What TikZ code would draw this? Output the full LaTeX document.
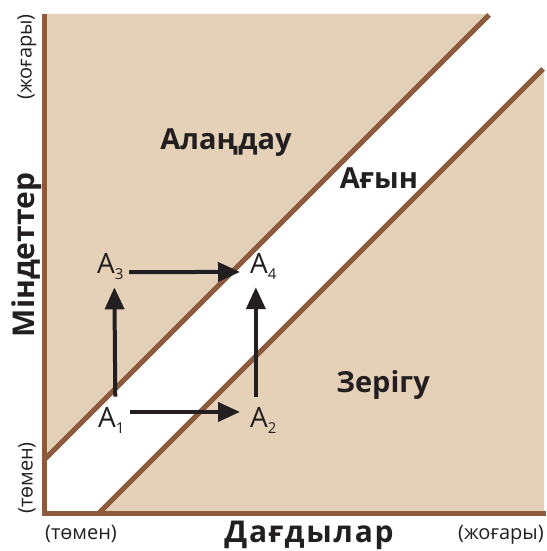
\documentclass[tikz,border=0pt]{standalone}
\usepackage{fontspec}
\setmainfont{Open Sans}
\usetikzlibrary{arrows.meta}
\definecolor{beige}{HTML}{E5D1B8}
\definecolor{brownline}{HTML}{8C5A3C}
\definecolor{ink}{HTML}{231F20}
\tikzset{
  axisline/.style={draw=brownline,line width=5pt},
  small/.style={font=\fontsize{20}{20}\selectfont,text=ink,inner sep=0pt},
  big/.style={font=\bfseries\fontsize{30}{30}\selectfont,text=ink,inner sep=0pt,anchor=base},
  region/.style={font=\bfseries\fontsize{29}{29}\selectfont,text=ink,inner sep=0pt,anchor=base},
  anode/.style={font=\fontsize{28}{28}\selectfont,text=ink,inner sep=0pt,anchor=base west},
  arr/.style={draw=ink,line width=4pt,-{Triangle[length=22pt,width=19pt]}}
}
\newcommand{\Asub}[1]{A\raisebox{-6pt}{\fontsize{15}{15}\selectfont #1}}
\begin{document}
\begin{tikzpicture}[x=1pt,y=-1pt]
\useasboundingbox (0,0) rectangle (546,551);
% beige regions
\fill[beige] (45,14) -- (489,14) -- (45,459) -- cycle;
\fill[beige] (99,513) -- (544,513) -- (544,68) -- cycle;
% diagonal lines
\draw[axisline] (45,459) -- (489,15);
\draw[axisline] (99,513) -- (543,69);
% axes
\draw[axisline] (44.5,14) -- (44.5,516);
\draw[axisline] (42,513.5) -- (546,513.5);
% axis texts
\node[small,rotate=90] (yhi) at (27,57) {(жоғары)};
\node[small,rotate=90] (ylo) at (27,478) {(төмен)};
\node[big,rotate=90] (ylab) at (34,255) {Міндеттер};
\node[small] (xlo) at (81,534) {(төмен)};
\node[small] (xhi) at (501,535) {(жоғары)};
\node[big] (xlab) at (309,542) {\addfontfeature{LetterSpace=6}Дағдылар};
% region texts
\node[region] (alan) at (226,149) {Алаңдау};
\node[region] (agyn) at (379,188.5) {Ағын};
\node[region] (zer) at (383,392) {Зерігу};
% A nodes
\node[anode] (a1) at (98,427) {\Asub{1}};
\node[anode] (a2) at (250,427) {\Asub{2}};
\node[anode] (a3) at (97,273) {\Asub{3}};
\node[anode] (a4) at (250,273) {\Asub{4}};
% arrows
\draw[arr,shorten <=10pt,shorten >=8pt] ([xshift=4pt]a1.north) -- ([xshift=4pt]a3.south);
\draw[arr,shorten <=10pt,shorten >=8pt] ([xshift=-7.5pt]a2.north) -- ([xshift=-7.5pt]a4.south);
\draw[arr,shorten <=5.5pt,shorten >=10pt] ([yshift=8pt]a1.east) -- ([yshift=8pt]a2.west);
\draw[arr,shorten <=5.5pt,shorten >=10pt] ([yshift=-6pt]a3.east) -- ([yshift=-6pt]a4.west);
\end{tikzpicture}
\end{document}
